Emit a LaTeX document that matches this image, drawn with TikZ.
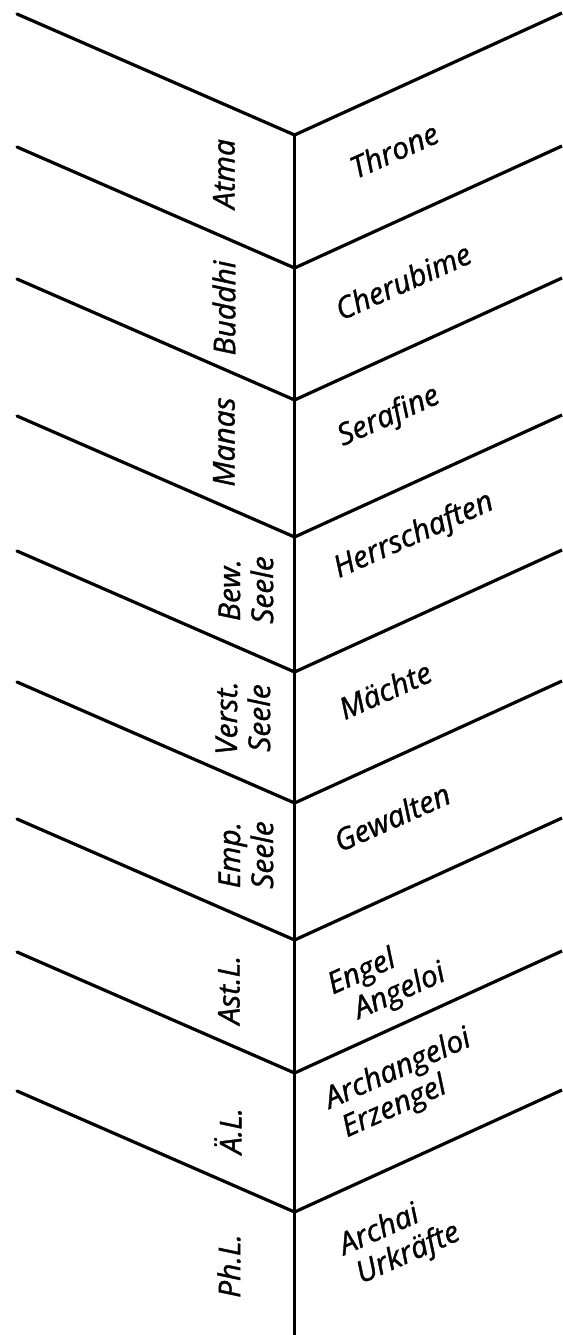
\documentclass[tikz,border=0pt]{standalone}
\usepackage{fontspec}
\setmainfont{Open Sans}
\newfontfamily\handfont{Open Sans}[FakeBold=1.2]
\begin{document}
\begin{tikzpicture}[x=1pt,y=-1pt,
  ruling/.style={line width=3.2pt,line cap=round,line join=round},
  lab/.style={font=\fontsize{30}{33}\handfont\itshape,inner sep=0pt},
  leftlab/.style={lab,rotate=90,align=center},
  rightlab/.style={lab,rotate=24,align=left}]
\useasboundingbox (0,0) rectangle (562,1335);
% vertices on the spine
\foreach \i/\y in {1/135,2/268,3/400,4/537,5/672,6/803,7/940,8/1073,9/1212}{
  \coordinate (v\i) at (294.6,\y);
  \coordinate (l\i) at (17,\y-121);
  \coordinate (r\i) at (562,\y-122);
}
\coordinate (bottom) at (294.6,1335);
\foreach \i in {1,...,9}{
  \draw[ruling] (l\i) -- (v\i);
  \draw[ruling,line cap=butt] (v\i) -- (r\i);
}
\draw[ruling,line cap=butt] (v1) -- (bottom);
% left labels
\node[leftlab] (atma) at (224,174) {Atma};
\node[leftlab] (buddhi) at (224,308) {Buddhi};
\node[leftlab] (manas) at (224,442) {Manas};
\node[leftlab] (bew) at (246,590) {Bew.\\Seele};
\node[leftlab] (verst) at (243,718) {Verst.\\Seele};
\node[leftlab] (emp) at (246,855) {Emp.\\Seele};
\node[leftlab] (ast) at (229,990) {Ast.L.};
\node[leftlab] (ael) at (228,1131) {Ä.L.};
\node[leftlab] (phl) at (229,1266) {Ph.L.};
% right labels
\node[rightlab] (throne) at (394,150) {Throne};
\node[rightlab] (cherub) at (403,281) {Cherubime};
\node[rightlab] (seraf) at (389,417) {Serafine};
\node[rightlab] (herr) at (414,536) {Herrschaften};
\node[rightlab] (maechte) at (385,690) {Mächte};
\node[rightlab] (gewalten) at (392,817) {Gewalten};
\node[rightlab] (engel) at (387,980) {Engel\\\hspace*{14pt}Angeloi};
\node[rightlab] (arch) at (405,1085) {Archangeloi\\\hspace*{4pt}Erzengel};
\node[rightlab] (archai) at (400,1240) {Archai\\\hspace*{4pt}Urkräfte};
\end{tikzpicture}
\end{document}
